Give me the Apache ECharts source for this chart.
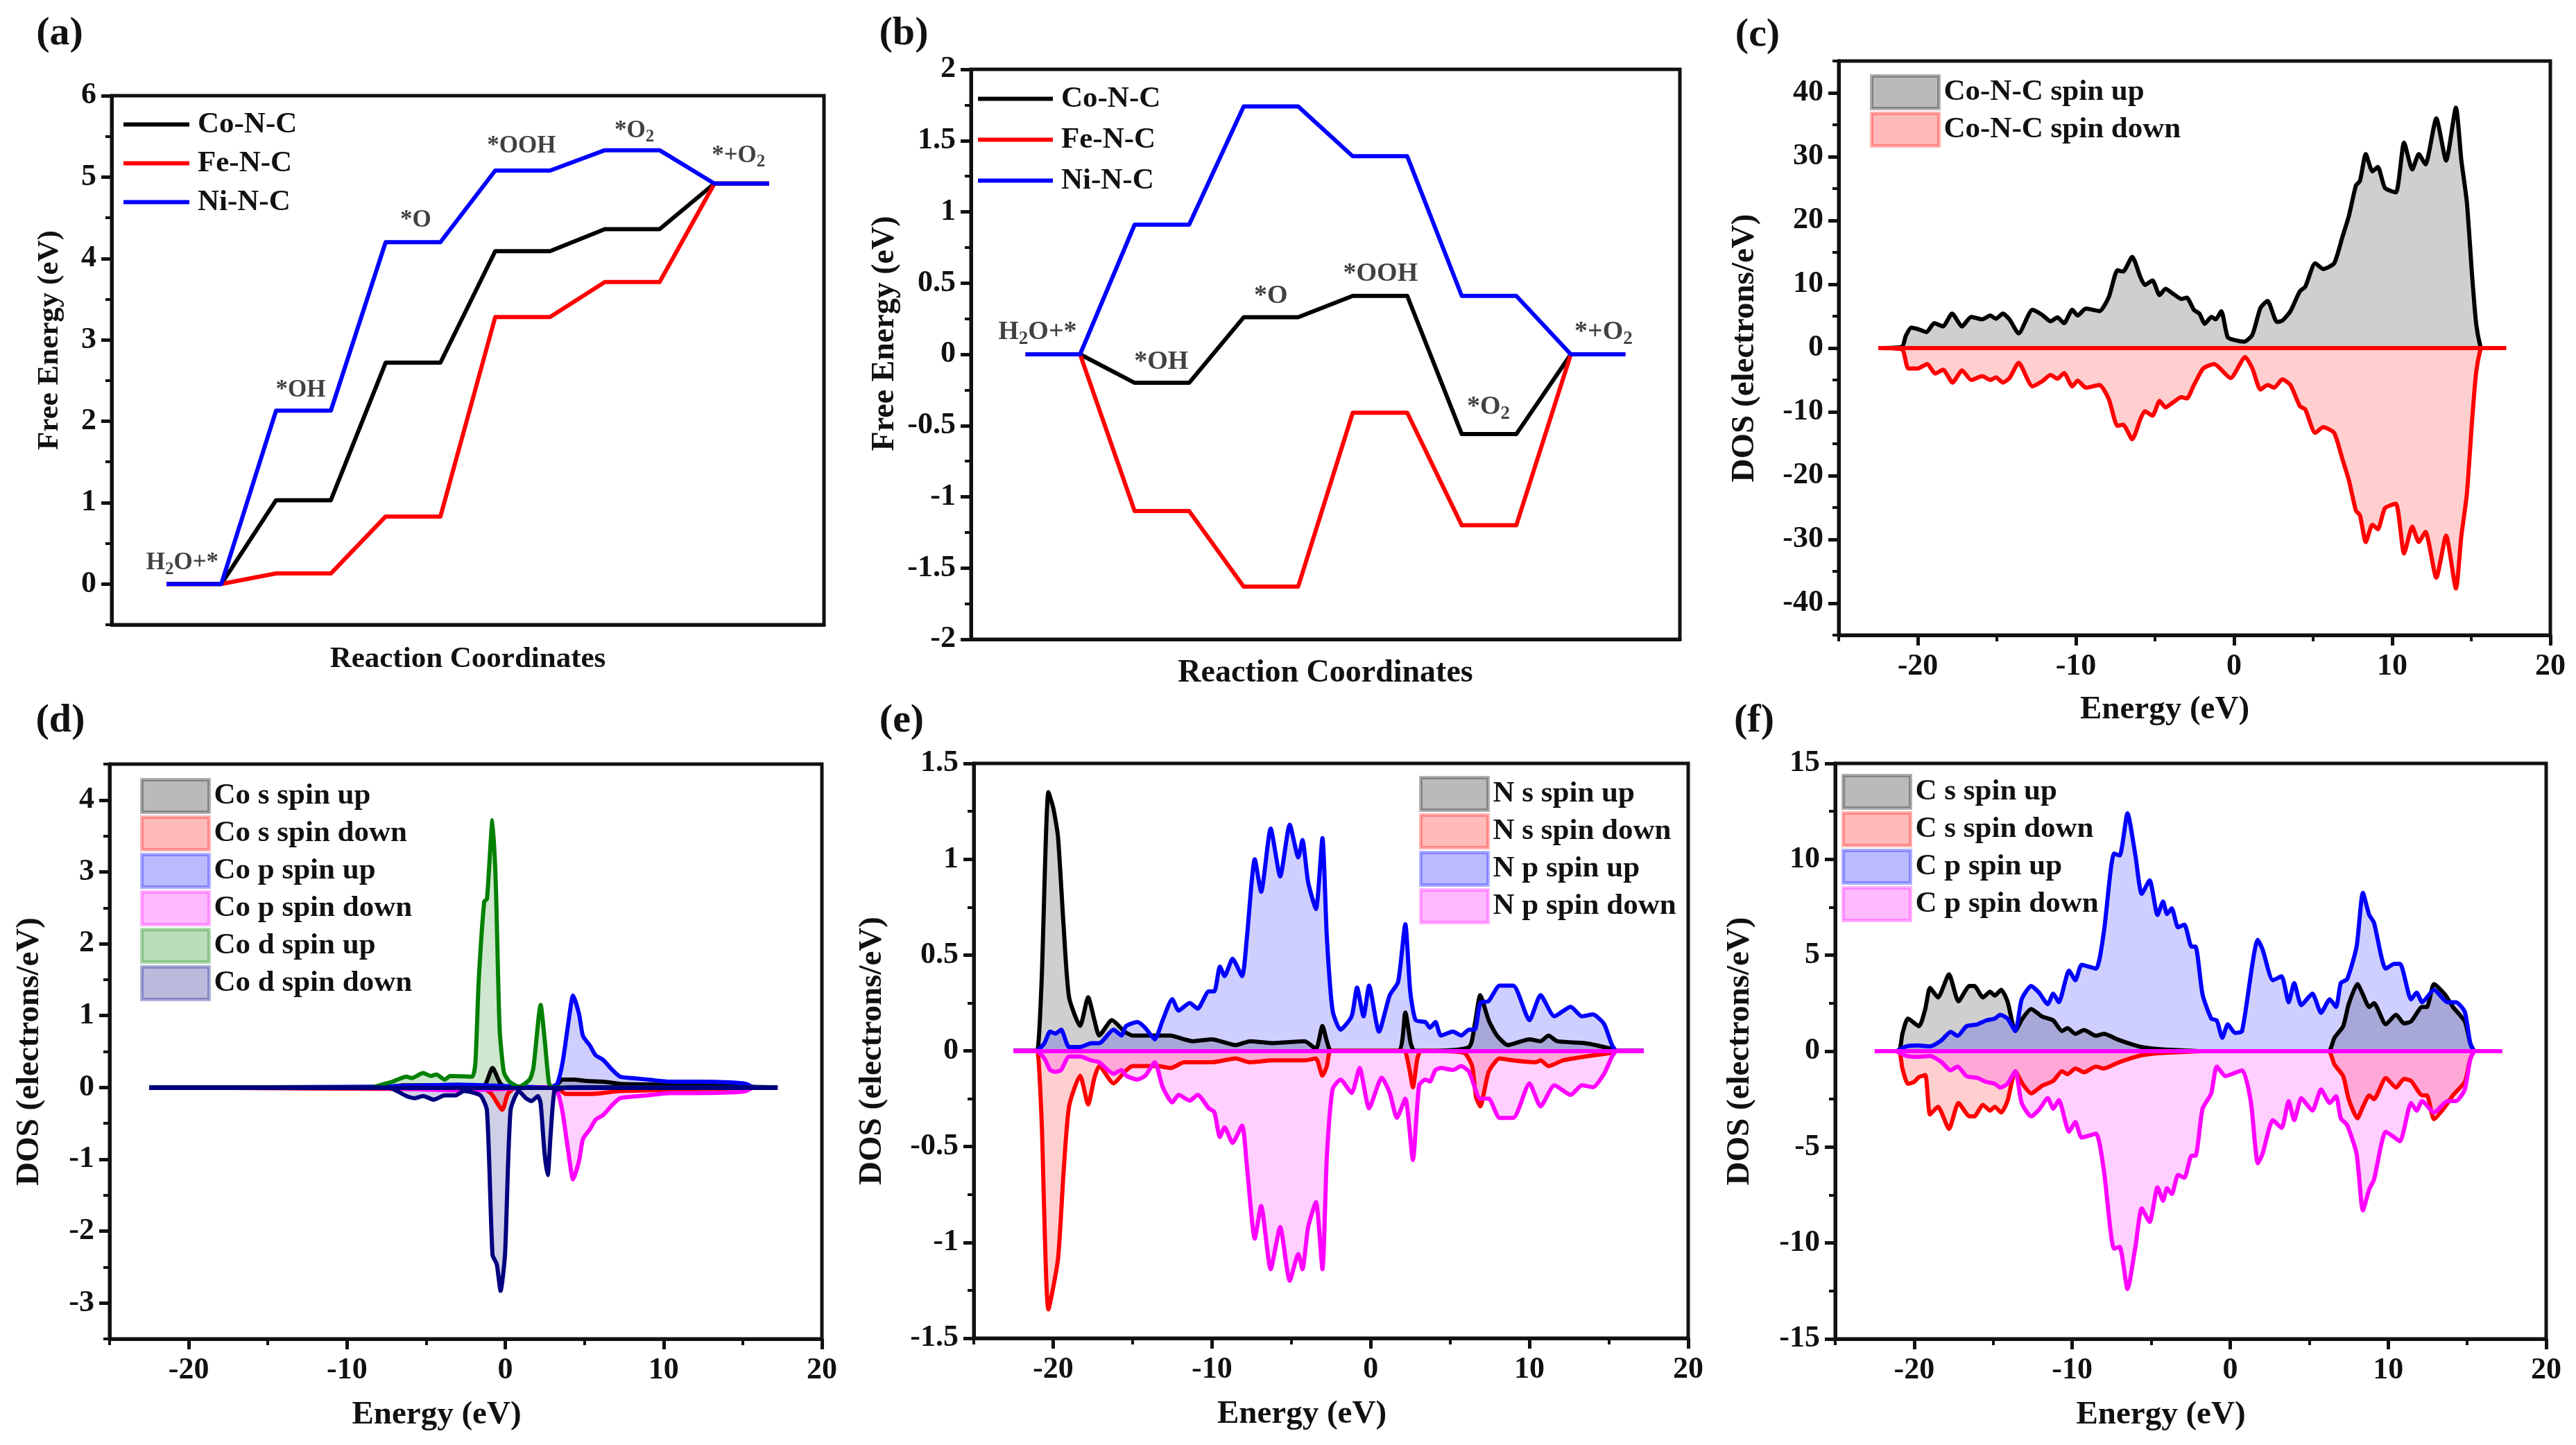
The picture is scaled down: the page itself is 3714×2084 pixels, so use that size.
<!DOCTYPE html>
<html><head><meta charset="utf-8">
<style>html,body{margin:0;padding:0;background:#fff}#c{width:3714px;height:2084px}</style>
<script src="https://cdn.jsdelivr.net/npm/echarts@6/dist/echarts.min.js"></script>
</head><body><div id="c"></div>
<script>
// ---------- data ----------
const stepX=[0,1,2,3,4,5,6,7,8,9,10,11];
const aCo=[0,0,1.03,1.03,2.72,2.72,4.09,4.09,4.36,4.36,4.92,4.92];
const aFe=[0,0,0.13,0.13,0.83,0.83,3.28,3.28,3.71,3.71,4.92,4.92];
const aNi=[0,0,2.13,2.13,4.2,4.2,5.08,5.08,5.33,5.33,4.92,4.92];
const bCo=[0,0,-0.2,-0.2,0.26,0.26,0.41,0.41,-0.56,-0.56,0,0];
const bFe=[0,0,-1.1,-1.1,-1.63,-1.63,-0.41,-0.41,-1.2,-1.2,0,0];
const bNi=[0,0,0.91,0.91,1.74,1.74,1.39,1.39,0.41,0.41,0,0];
const aNotes=[["H{s|2}O+*",0.29,0.255],["*OH",2.45,2.38],["*O",4.55,4.47],["*OOH",6.48,5.38],["*O{s|2}",8.54,5.57],["*+O{s|2}",10.44,5.26]];
const bNotes=[["H{s|2}O+*",0.22,0.155],["*OH",2.49,-0.056],["*O",4.5,0.41],["*OOH",6.51,0.565],["*O{s|2}",8.49,-0.37],["*+O{s|2}",10.6,0.155]];
const baselineSpan=[-22.5,17.2];

const cUp=[[-22.5,0],[-21,0.2],[-20.76,1.9],[-20.41,3.2],[-19.9,2.9],[-19.45,2.5],[-18.96,3.9],[-18.41,3.4],[-17.83,5.4],[-17.2,3.4],[-16.62,4.9],[-15.93,4.5],[-15.41,5.1],[-15.06,4.6],[-14.62,5.4],[-14.2,4.5],[-13.62,2.3],[-12.75,6],[-12.13,5.2],[-11.61,4.2],[-11.16,4.8],[-10.75,3.9],[-10.23,6],[-9.89,5.1],[-9.37,6.2],[-8.51,5.8],[-7.92,8],[-7.37,12.2],[-7.02,12],[-6.44,14.3],[-5.92,11.1],[-5.64,9.9],[-5.16,10.6],[-4.71,8.3],[-4.33,9.3],[-3.85,8.5],[-3.33,7.7],[-2.99,7.9],[-2.54,6],[-2.19,5.4],[-1.85,3.8],[-1.43,4.9],[-1.16,4.5],[-0.81,5.8],[-0.4,1.7],[0.12,1.2],[0.64,1],[1.16,2.1],[1.67,6.3],[2.12,7.4],[2.71,4.1],[3.05,4.3],[3.57,5.8],[4.16,8.9],[4.5,9.6],[5.13,13.3],[5.64,12.4],[6.33,13.3],[6.85,17.4],[7.26,20.7],[7.71,25.5],[7.96,26.2],[8.33,30.4],[8.75,27.7],[9.09,28.4],[9.54,25.1],[10.23,24.4],[10.75,32.2],[11.27,28],[11.68,30.4],[12.1,28.8],[12.79,36],[13.41,29.4],[14.03,37.7],[14.37,29.5],[14.72,22.9],[15.06,11.1],[15.31,3.8],[15.58,0.2],[15.7,0],[17.2,0]];
const cDown=[[-22.5,0],[-21,-0.2],[-20.6,-3.2],[-20,-3.2],[-19.4,-2.5],[-18.9,-4],[-18.4,-3.4],[-17.8,-5.4],[-17.2,-3.5],[-16.62,-5],[-15.93,-4.4],[-15.41,-5],[-15.06,-4.6],[-14.62,-5.4],[-14.2,-4.7],[-13.62,-2.3],[-12.75,-6],[-12.13,-5.2],[-11.61,-4.2],[-11.16,-4.8],[-10.75,-3.9],[-10.23,-6],[-9.89,-5.1],[-9.37,-6.2],[-8.51,-5.8],[-7.92,-8],[-7.37,-12.2],[-7.02,-12],[-6.44,-14.3],[-5.92,-11.1],[-5.64,-9.9],[-5.16,-10.6],[-4.71,-8.3],[-4.33,-9.3],[-3.85,-8.5],[-3.33,-7.7],[-2.99,-7.9],[-2.54,-5.8],[-1.95,-3.2],[-1.26,-2.5],[-0.22,-4.7],[0.7,-1.4],[1.16,-3.2],[1.67,-6.5],[2.12,-5.8],[2.54,-6.2],[3.05,-4.9],[3.57,-5.8],[4.16,-9.1],[4.5,-9.6],[5.13,-13.3],[5.64,-12.4],[6.33,-13.3],[6.85,-17.4],[7.26,-20.7],[7.71,-25.5],[7.96,-26.2],[8.33,-30.4],[8.75,-27.7],[9.09,-28.4],[9.54,-25.1],[10.23,-24.4],[10.75,-32.2],[11.27,-28],[11.68,-30.4],[12.1,-28.8],[12.79,-36],[13.41,-29.4],[14.03,-37.7],[14.37,-29.5],[14.72,-22.9],[15.06,-11.1],[15.31,-3.8],[15.58,-0.2],[15.7,0],[17.2,0]];

const dSUp=[[-22.5,0],[-7.6,0],[-6.5,0.03],[-3,0.03],[-1.4,0.01],[-0.81,0.27],[-0.3,0.05],[0.15,0],[3,0],[3.27,0.04],[3.62,0.11],[4.31,0.11],[5.18,0.09],[6.2,0.08],[7.25,0.05],[13.1,0.03],[15.2,0.01],[17.2,0]];
const dSDown=[[-22.5,0],[-6.6,-0.02],[-1.4,-0.02],[-0.88,-0.09],[-0.19,-0.31],[0.16,-0.09],[0.68,0],[3.27,0],[3.8,-0.09],[5.5,-0.09],[7.25,-0.05],[15.2,-0.01],[17.2,0]];
const dPUp=[[-22.5,0],[-8,0.01],[-3,0.04],[2.75,0],[3.27,0.05],[3.62,0.35],[3.97,0.88],[4.28,1.28],[4.66,1.02],[4.9,0.72],[5.35,0.58],[5.7,0.45],[6.2,0.38],[6.73,0.25],[7.25,0.15],[7.95,0.13],[9,0.11],[10.4,0.08],[12.1,0.08],[14.2,0.07],[15.2,0.05],[15.7,0],[17.2,0]];
const dPDown=[[-22.5,0],[-8,-0.01],[-3,-0.04],[2.75,0],[3.27,-0.05],[3.62,-0.35],[3.97,-0.88],[4.28,-1.28],[4.66,-1.02],[4.9,-0.72],[5.35,-0.58],[5.7,-0.45],[6.2,-0.38],[6.73,-0.25],[7.25,-0.15],[7.95,-0.13],[9,-0.11],[10.4,-0.08],[12.1,-0.08],[14.2,-0.07],[15.2,-0.05],[15.7,0],[17.2,0]];
const dDUp=[[-22.5,0],[-8.5,0],[-7.64,0.05],[-7.12,0.08],[-6.25,0.15],[-5.9,0.13],[-5.2,0.2],[-4.7,0.16],[-4.35,0.18],[-3.83,0.11],[-3.48,0.16],[-2.1,0.15],[-1.89,0.35],[-1.68,1.49],[-1.33,2.59],[-1.16,2.62],[-0.81,3.72],[-0.6,2.82],[-0.36,0.82],[-0.09,0.21],[0.26,0.08],[0.85,0.01],[1.54,0.11],[1.78,0.28],[2.23,1.15],[2.48,0.68],[2.75,0.07],[2.93,0],[17.2,0]];
const dDDown=[[-22.5,0],[-7.5,0],[-7.1,-0.02],[-6.25,-0.12],[-5.73,-0.15],[-5.2,-0.12],[-4.52,-0.17],[-3.83,-0.11],[-3.13,-0.11],[-2.62,-0.05],[-1.58,-0.11],[-1.16,-0.32],[-0.81,-2.33],[-0.54,-2.46],[-0.3,-2.83],[-0.02,-2.33],[0.33,-0.32],[0.85,-0.05],[1.3,-0.15],[1.65,-0.19],[2.06,-0.12],[2.23,-0.22],[2.48,-0.92],[2.68,-1.22],[2.86,-0.66],[3.1,-0.05],[3.45,-0.02],[4,0],[17.2,0]];

const eSUp=[[-22.5,0],[-21.24,0],[-21,0],[-20.73,0.36],[-20.3,1.35],[-20,1.27],[-19.7,1.12],[-19.35,0.66],[-19,0.28],[-18.3,0.13],[-17.8,0.28],[-17.4,0.16],[-17.1,0.08],[-16.3,0.16],[-15.5,0.1],[-15,0.08],[-13.4,0.08],[-12.6,0.08],[-11.75,0.06],[-11.2,0.05],[-10,0.06],[-8.5,0.03],[-7.6,0.05],[-6.2,0.04],[-4.15,0.05],[-3.45,0.01],[-3.04,0.13],[-2.76,0.05],[-2.5,0],[1.73,0],[2.18,0.2],[2.52,0.04],[2.76,0],[4,0],[6.2,0.02],[6.56,0.14],[6.9,0.29],[7.43,0.16],[7.95,0.08],[8.64,0.03],[10,0.06],[10.7,0.05],[11.2,0.08],[11.75,0.05],[13.5,0.04],[15.2,0.01],[15.5,0],[17.2,0]];
const eSDown=[[-22.5,0],[-21.24,0],[-21,0],[-20.73,-0.36],[-20.3,-1.35],[-19.7,-1.09],[-19.35,-0.64],[-19,-0.29],[-18.3,-0.13],[-17.8,-0.28],[-17.4,-0.14],[-17.1,-0.08],[-16.2,-0.17],[-15.5,-0.11],[-15,-0.08],[-13.4,-0.08],[-12.6,-0.09],[-11.75,-0.06],[-10,-0.06],[-8.5,-0.04],[-7.6,-0.06],[-6.2,-0.05],[-4.15,-0.05],[-3.45,-0.04],[-3.04,-0.13],[-2.76,-0.08],[-2.5,0],[2.07,0],[2.42,-0.09],[2.66,-0.19],[2.94,-0.04],[3.18,0],[5.87,-0.01],[6.39,-0.08],[6.63,-0.24],[6.9,-0.29],[7.43,-0.11],[8.12,-0.04],[9,-0.05],[10.4,-0.06],[10.7,-0.05],[11.2,-0.08],[12.1,-0.05],[13.5,-0.03],[15.2,-0.01],[15.5,0],[17.2,0]];
const ePUp=[[-22.5,0],[-21.07,0],[-20.55,0.04],[-20.2,0.1],[-19.86,0.09],[-19.5,0.11],[-19,0.02],[-18.3,0.02],[-17.6,0.04],[-17.1,0.04],[-16.2,0.11],[-15.7,0.08],[-15.4,0.13],[-14.7,0.15],[-14.2,0.12],[-13.6,0.06],[-13.1,0.16],[-12.5,0.27],[-12.1,0.21],[-11.4,0.25],[-10.9,0.22],[-10.2,0.31],[-9.85,0.31],[-9.5,0.44],[-9.2,0.39],[-8.7,0.48],[-8.1,0.39],[-7.8,0.59],[-7.3,1],[-6.9,0.83],[-6.3,1.16],[-5.7,0.91],[-5.1,1.18],[-4.56,1.01],[-4.3,1.1],[-3.94,0.88],[-3.45,0.74],[-3.04,1.11],[-2.76,0.59],[-2.4,0.21],[-1.9,0.11],[-1.2,0.18],[-0.86,0.33],[-0.45,0.18],[-0.1,0.34],[0.52,0.1],[1.2,0.29],[1.73,0.36],[2.18,0.66],[2.49,0.31],[2.83,0.16],[3.45,0.15],[3.73,0.12],[4.08,0.15],[4.42,0.08],[5.18,0.1],[5.7,0.08],[6.2,0.11],[6.56,0.11],[6.9,0.25],[7.43,0.26],[8.12,0.34],[8.98,0.34],[10,0.16],[10.7,0.29],[11.57,0.18],[12.6,0.23],[13.3,0.18],[14,0.19],[14.7,0.14],[15.2,0.03],[15.5,0],[17.2,0]];
const ePDown=[[-22.5,0],[-21.07,0],[-20.55,-0.04],[-20.2,-0.1],[-19.86,-0.11],[-19.5,-0.1],[-19,-0.03],[-18.3,-0.03],[-17.6,-0.05],[-17.1,-0.06],[-16.2,-0.12],[-15.7,-0.1],[-15.4,-0.13],[-14.7,-0.15],[-14.2,-0.13],[-13.6,-0.06],[-13.1,-0.19],[-12.5,-0.27],[-12.1,-0.23],[-11.4,-0.26],[-10.9,-0.23],[-10.2,-0.3],[-9.85,-0.32],[-9.5,-0.45],[-9.2,-0.4],[-8.7,-0.48],[-8.1,-0.39],[-7.8,-0.6],[-7.3,-0.98],[-6.9,-0.81],[-6.3,-1.14],[-5.7,-0.92],[-5.1,-1.2],[-4.56,-1.06],[-4.3,-1.14],[-3.94,-0.92],[-3.45,-0.79],[-3.04,-1.14],[-2.76,-0.55],[-2.4,-0.2],[-1.9,-0.15],[-1.2,-0.22],[-0.7,-0.09],[-0.1,-0.3],[0.7,-0.14],[1.2,-0.22],[1.65,-0.35],[2.18,-0.25],[2.66,-0.57],[3.05,-0.18],[3.45,-0.15],[3.73,-0.16],[4.08,-0.1],[4.42,-0.09],[5.18,-0.1],[5.7,-0.08],[6.2,-0.11],[6.9,-0.25],[7.43,-0.25],[8.12,-0.35],[8.98,-0.35],[10,-0.17],[10.7,-0.29],[11.57,-0.18],[12.6,-0.23],[13.3,-0.18],[14,-0.19],[14.7,-0.12],[15.2,-0.03],[15.5,0],[17.2,0]];

const fSUp=[[-22.5,0],[-21,0],[-20.75,0.9],[-20.4,1.7],[-19.7,1.3],[-19.3,2.2],[-19,3.3],[-18.5,2.8],[-17.8,4],[-17.2,2.6],[-16.5,3.4],[-16.2,3.4],[-15.65,2.8],[-15.2,3.1],[-14.9,2.9],[-14.5,3.2],[-14.1,2.6],[-13.6,1.05],[-13.15,1.7],[-12.6,2.2],[-11.9,1.8],[-11.2,1.6],[-10.65,1.05],[-10.3,1.2],[-9.8,0.9],[-9.25,1.1],[-8.5,0.8],[-8,0.9],[-7.1,0.6],[-6.2,0.35],[-5.5,0.2],[-4.4,0.1],[-2.6,0.03],[-1.9,0],[6.2,0],[6.6,0.7],[7.15,1.3],[7.5,2.45],[8.05,3.5],[8.4,2.95],[8.8,2.3],[9.1,2.5],[9.85,1.4],[10.5,1.9],[11,1.45],[11.45,1.55],[12.15,2.3],[12.45,2.3],[12.9,3.5],[13.6,2.95],[14.1,2.3],[14.85,1.55],[15.2,0.4],[15.5,0],[17.2,0]];
const fSDown=[[-22.5,0],[-21,0],[-20.75,-0.9],[-20.4,-1.7],[-20,-1.6],[-19.7,-1.35],[-19.3,-1.25],[-19,-3.3],[-18.5,-2.9],[-17.8,-4.05],[-17.2,-2.7],[-16.5,-3.4],[-16.2,-3.4],[-15.65,-2.8],[-15.2,-3.1],[-14.9,-2.9],[-14.5,-3.2],[-14.1,-2.6],[-13.6,-1.05],[-13.15,-1.7],[-12.6,-2.2],[-11.9,-1.8],[-11.2,-1.55],[-10.65,-1.05],[-10.3,-1.2],[-9.8,-0.9],[-9.25,-1.1],[-8.5,-0.8],[-8,-0.9],[-7.1,-0.6],[-6.2,-0.35],[-5.5,-0.2],[-4.4,-0.1],[-2.6,-0.03],[-1.9,0],[6.2,0],[6.6,-0.7],[7.15,-1.3],[7.5,-2.5],[8.05,-3.5],[8.4,-2.9],[8.8,-2.3],[9.1,-2.5],[9.85,-1.4],[10.5,-1.9],[11,-1.45],[11.45,-1.55],[12.15,-2.3],[12.45,-2.3],[12.9,-3.55],[13.6,-2.9],[14.1,-2.3],[14.85,-1.6],[15.2,-0.4],[15.5,0],[17.2,0]];
const fPUp=[[-22.5,0],[-21.2,0],[-20.5,0.25],[-19.75,0.3],[-19,0.25],[-18.3,0.55],[-17.7,1],[-17.25,0.8],[-16.7,1.3],[-16,1.4],[-15.45,1.6],[-14.9,1.7],[-14.55,1.9],[-14.1,1.7],[-13.6,1.05],[-13.2,2.7],[-12.6,3.4],[-12.1,3.05],[-11.55,2.45],[-11.2,3],[-10.85,2.55],[-10.2,4.2],[-9.8,3.7],[-9.4,4.5],[-8.5,4.3],[-8,6.2],[-7.35,10.3],[-7,10.2],[-6.5,12.4],[-6,10.2],[-5.6,8.2],[-5.1,8.9],[-4.6,7.1],[-4.25,7.8],[-4,7.15],[-3.7,7.45],[-3.3,6.45],[-2.9,6.6],[-2.45,5.45],[-2.2,5.45],[-1.75,2.95],[-1.2,1.7],[-0.85,1.6],[-0.5,0.7],[-0.15,1.4],[0.3,0.95],[0.75,1.05],[1.75,5.8],[2.05,5.3],[2.7,3.7],[3.25,3.9],[3.7,2.55],[4.05,3.55],[4.5,2.4],[5.2,3],[5.75,2],[6.3,2.7],[6.7,2.3],[7,3.55],[7.4,3.75],[8,5.45],[8.4,8.25],[8.8,7.1],[9.1,6.7],[9.85,4.3],[10.4,4.55],[10.75,4.55],[11.45,2.7],[11.8,3.05],[12.15,2.55],[12.9,3.2],[13.75,2.55],[14.3,2.55],[14.85,2.05],[15.2,0.4],[15.5,0],[17.2,0]];
const fPDown=[[-22.5,0],[-21.2,0],[-20.5,-0.25],[-19.75,-0.3],[-19,-0.25],[-18.3,-0.55],[-17.7,-1],[-17.25,-0.8],[-16.7,-1.3],[-16,-1.4],[-15.45,-1.6],[-14.9,-1.7],[-14.55,-1.9],[-14.1,-1.7],[-13.6,-1.05],[-13.2,-2.7],[-12.6,-3.4],[-12.1,-3.05],[-11.55,-2.45],[-11.2,-3],[-10.85,-2.55],[-10.2,-4.2],[-9.8,-3.7],[-9.4,-4.5],[-8.5,-4.3],[-8,-6.2],[-7.35,-10.3],[-7,-10.2],[-6.5,-12.4],[-6,-10.2],[-5.6,-8.2],[-5.1,-8.9],[-4.6,-7.1],[-4.25,-7.8],[-4,-7.15],[-3.7,-7.45],[-3.3,-6.45],[-2.9,-6.6],[-2.45,-5.45],[-2.2,-5.45],[-1.75,-3],[-1.2,-2.2],[-0.85,-0.8],[-0.3,-1.3],[0.75,-1],[1.3,-2.6],[1.75,-5.85],[2.05,-5.35],[2.7,-3.6],[3.25,-4],[3.7,-2.6],[4.05,-3.6],[4.5,-2.45],[5.2,-3.1],[5.75,-2],[6.3,-2.7],[6.7,-2.35],[7,-3.5],[7.4,-3.85],[8,-5.35],[8.4,-8.3],[8.8,-7.2],[9.1,-6.7],[9.85,-4.2],[10.4,-4.5],[10.75,-4.7],[11.45,-2.7],[11.8,-3.1],[12.15,-2.6],[12.9,-3.2],[13.75,-2.6],[14.3,-2.6],[14.85,-2],[15.2,-0.4],[15.5,0],[17.2,0]];

const energyMajor=[-20,-10,0,10,20];
const energyMinor=[-25,-15,-5,5,15];
const aTicks=[0,1,2,3,4,5,6], aMinor=[-0.5,0.5,1.5,2.5,3.5,4.5,5.5];
const bTicks=[-2,-1.5,-1,-0.5,0,0.5,1,1.5,2], bMinor=[-1.75,-1.25,-0.75,-0.25,0.25,0.75,1.25,1.75];
const cTicks=[-40,-30,-20,-10,0,10,20,30,40], cMinor=[-45,-35,-25,-15,-5,5,15,25,35,45];
const dTicks=[-3,-2,-1,0,1,2,3,4], dMinor=[-3.5,-2.5,-1.5,-0.5,0.5,1.5,2.5,3.5,4.5];
const eTicks=[-1.5,-1,-0.5,0,0.5,1,1.5], eMinor=[-1.25,-0.75,-0.25,0.25,0.75,1.25];
const fTicks=[-15,-10,-5,0,5,10,15], fMinor=[-12.5,-7.5,-2.5,2.5,7.5,12.5];

// ---------- styles ----------
const FF='"Liberation Serif"';
const INK='#111';
const BLACK='0,0,0',RED='255,0,0',BLUE='0,0,255',MAG='255,0,255',GREEN='0,128,0',NAVY='0,0,128';
const grids=[],xAxis=[],yAxis=[],series=[],legend=[],title=[];
function rgba(c,a){return 'rgba('+c+','+a+')';}

function panel(o){
  const g=grids.length;
  grids.push({left:o.l,top:o.t,width:o.r-o.l,height:o.b-o.t,show:true,borderColor:INK,borderWidth:5,backgroundColor:'transparent',containLabel:false});
  const xi=xAxis.length,yi=yAxis.length;
  const line={show:true,onZero:false,lineStyle:{color:INK,width:5}};
  const noLine={show:false,onZero:false};
  if(o.energy){
    xAxis.push({type:'value',gridIndex:g,min:-25,max:20,name:o.xName,nameLocation:'middle',nameGap:o.xGap,
      nameTextStyle:{fontFamily:FF,fontWeight:'bold',fontSize:o.xSize,color:INK,padding:[0,o.xShift||0,0,0]},
      axisLine:line,splitLine:{show:false},
      axisTick:{show:true,length:15,lineStyle:{color:INK,width:5},customValues:energyMajor},
      axisLabel:{show:true,margin:24,fontFamily:FF,fontWeight:'bold',fontSize:44,color:INK,customValues:energyMajor}});
    xAxis.push({type:'value',gridIndex:g,min:-25,max:20,position:'bottom',axisLine:noLine,splitLine:{show:false},axisLabel:{show:false},
      axisTick:{show:true,length:9,lineStyle:{color:INK,width:4},customValues:energyMinor}});
  }else{
    xAxis.push({type:'value',gridIndex:g,min:-1,max:12,name:o.xName,nameLocation:'middle',nameGap:o.xGap,
      nameTextStyle:{fontFamily:FF,fontWeight:'bold',fontSize:o.xSize,color:INK},
      axisLine:line,splitLine:{show:false},axisTick:{show:false},axisLabel:{show:false}});
    xAxis.push({type:'value',gridIndex:g,min:-1,max:12,show:false});
  }
  yAxis.push({type:'value',gridIndex:g,min:o.yMin,max:o.yMax,name:o.yName,nameLocation:'middle',nameGap:o.yGap,
    nameTextStyle:{fontFamily:FF,fontWeight:'bold',fontSize:o.ySize,color:INK,padding:[0,0,0,o.yShift||0]},
    axisLine:line,splitLine:{show:false},
    axisTick:{show:true,length:15,lineStyle:{color:INK,width:5},customValues:o.yTicks},
    axisLabel:{show:true,margin:22,fontFamily:FF,fontWeight:'bold',fontSize:44,color:INK,customValues:o.yTicks}});
  yAxis.push({type:'value',gridIndex:g,min:o.yMin,max:o.yMax,position:'left',axisLine:noLine,splitLine:{show:false},axisLabel:{show:false},
    axisTick:{show:true,length:9,lineStyle:{color:INK,width:4},customValues:o.yMinor}});

  o.items.forEach((it,i)=>{
    const data=it.x?it.x.map((v,k)=>[v,it.y[k]]):it.d;
    const s={type:'line',name:it.n,data:data,xAxisIndex:xi,yAxisIndex:yi,showSymbol:false,symbol:'none',smooth:it.x?false:0.2,
      lineStyle:{color:rgba(it.c,1),width:6,join:'round'},itemStyle:{color:rgba(it.c,1)},z:2};
    if(o.energy){
      s.areaStyle={color:rgba(it.c,0.27),origin:0};
      if(i===o.items.length-1){
        s.markLine={silent:true,symbol:'none',label:{show:false},animation:false,
          lineStyle:{color:rgba(it.c,1),width:6,type:'solid'},
          data:[[{coord:[baselineSpan[0],0]},{coord:[baselineSpan[1],0]}]]};
      }
    }
    series.push(s);
  });
  if(o.notes){
    series.push({type:'scatter',name:o.notesName,xAxisIndex:xi,yAxisIndex:yi,symbolSize:0,z:5,silent:true,
      data:o.notes.map(n=>({value:[n[1],n[2]],name:n[0]})),
      label:{show:true,position:'inside',align:'center',verticalAlign:'middle',formatter:p=>p.name,
        fontFamily:FF,fontWeight:'bold',fontSize:o.noteSize,color:INK,
        rich:{s:{fontFamily:FF,fontWeight:'bold',fontSize:Math.round(o.noteSize*0.7),color:INK,padding:[Math.round(o.noteSize*0.5),0,0,0]}}}});
  }
  const lg={show:true,orient:'vertical',left:o.lgL,top:o.lgT,padding:0,selectedMode:false,
    itemWidth:o.energy?97:o.lgW,itemHeight:o.energy?47:6,itemGap:o.energy?2:o.lgGap,
    textStyle:{fontFamily:FF,fontWeight:'bold',fontSize:43,color:INK,padding:[0,0,0,o.energy?2:7]},
    data:o.items.map(it=>o.energy?{name:it.n,icon:'rect',itemStyle:{color:rgba(it.c,0.27),borderColor:rgba(it.c,0.3),borderWidth:5}}:{name:it.n,icon:'rect',itemStyle:{color:rgba(it.c,1),borderWidth:0}})};
  legend.push(lg);
  title.push({text:o.tag,left:o.tagX,top:o.tagY,padding:0,textAlign:'center',textStyle:{fontFamily:FF,fontWeight:'bold',fontSize:58,color:INK}});
}

const RC='Reaction Coordinates',FE='Free Energy (eV)',DOS='DOS (electrons/eV)',EN='Energy (eV)';
panel({tag:'(a)',tagX:86,tagY:20,l:161,r:1188,t:138,b:901,yMin:-0.5,yMax:6,yTicks:aTicks,yMinor:aMinor,
  xName:RC,xGap:28,xSize:43,yName:FE,yGap:68,ySize:43,yShift:58,
  items:[{n:'Co-N-C',x:stepX,y:aCo,c:BLACK},{n:'Fe-N-C',x:stepX,y:aFe,c:RED},{n:'Ni-N-C',x:stepX,y:aNi,c:BLUE}],
  notes:aNotes,notesName:'a notes',noteSize:35,lgL:178,lgT:158,lgW:95,lgGap:13});
panel({tag:'(b)',tagX:1303,tagY:20,l:1400,r:2422,t:100,b:922,yMin:-2,yMax:2,yTicks:bTicks,yMinor:bMinor,
  xName:RC,xGap:26,xSize:46,yName:FE,yGap:101,ySize:46,yShift:60,
  items:[{n:'Co-N-C',x:stepX,y:bCo,c:BLACK},{n:'Fe-N-C',x:stepX,y:bFe,c:RED},{n:'Ni-N-C',x:stepX,y:bNi,c:BLUE}],
  notes:bNotes,notesName:'b notes',noteSize:38,lgL:1410,lgT:121,lgW:108,lgGap:16});
panel({energy:true,tag:'(c)',tagX:2534,tagY:22,l:2651,r:3677,t:88,b:916,yMin:-45,yMax:45,yTicks:cTicks,yMinor:cMinor,
  xName:EN,xGap:84,xSize:47,xShift:86,yName:DOS,yGap:112,ySize:47,
  items:[{n:'Co-N-C spin up',d:cUp,c:BLACK},{n:'Co-N-C spin down',d:cDown,c:RED}],lgL:2696,lgT:107});
panel({energy:true,tag:'(d)',tagX:87,tagY:1011,l:158,r:1185,t:1102,b:1931,yMin:-3.5,yMax:4.5,yTicks:dTicks,yMinor:dMinor,
  xName:EN,xGap:86,xSize:47,xShift:84,yName:DOS,yGap:92,ySize:47,
  items:[{n:'Co s spin up',d:dSUp,c:BLACK},{n:'Co s spin down',d:dSDown,c:RED},{n:'Co p spin up',d:dPUp,c:BLUE},{n:'Co p spin down',d:dPDown,c:MAG},{n:'Co d spin up',d:dDUp,c:GREEN},{n:'Co d spin down',d:dDDown,c:NAVY}],lgL:202,lgT:1122});
panel({energy:true,tag:'(e)',tagX:1300,tagY:1011,l:1404,r:2434,t:1101,b:1930,yMin:-1.5,yMax:1.5,yTicks:eTicks,yMinor:eMinor,
  xName:EN,xGap:86,xSize:47,xShift:84,yName:DOS,yGap:123,ySize:47,
  items:[{n:'N s spin up',d:eSUp,c:BLACK},{n:'N s spin down',d:eSDown,c:RED},{n:'N p spin up',d:ePUp,c:BLUE},{n:'N p spin down',d:ePDown,c:MAG}],lgL:2046,lgT:1119});
panel({energy:true,tag:'(f)',tagX:2529,tagY:1011,l:2646,r:3671,t:1101,b:1931,yMin:-15,yMax:15,yTicks:fTicks,yMinor:fMinor,
  xName:EN,xGap:86,xSize:47,xShift:86,yName:DOS,yGap:114,ySize:47,
  items:[{n:'C s spin up',d:fSUp,c:BLACK},{n:'C s spin down',d:fSDown,c:RED},{n:'C p spin up',d:fPUp,c:BLUE},{n:'C p spin down',d:fPDown,c:MAG}],lgL:2655,lgT:1116});

const chart=echarts.init(document.getElementById('c'),null,{width:3714,height:2084,renderer:'canvas'});
chart.setOption({animation:false,backgroundColor:'#fff',title,legend,grid:grids,xAxis,yAxis,series});
</script></body></html>
